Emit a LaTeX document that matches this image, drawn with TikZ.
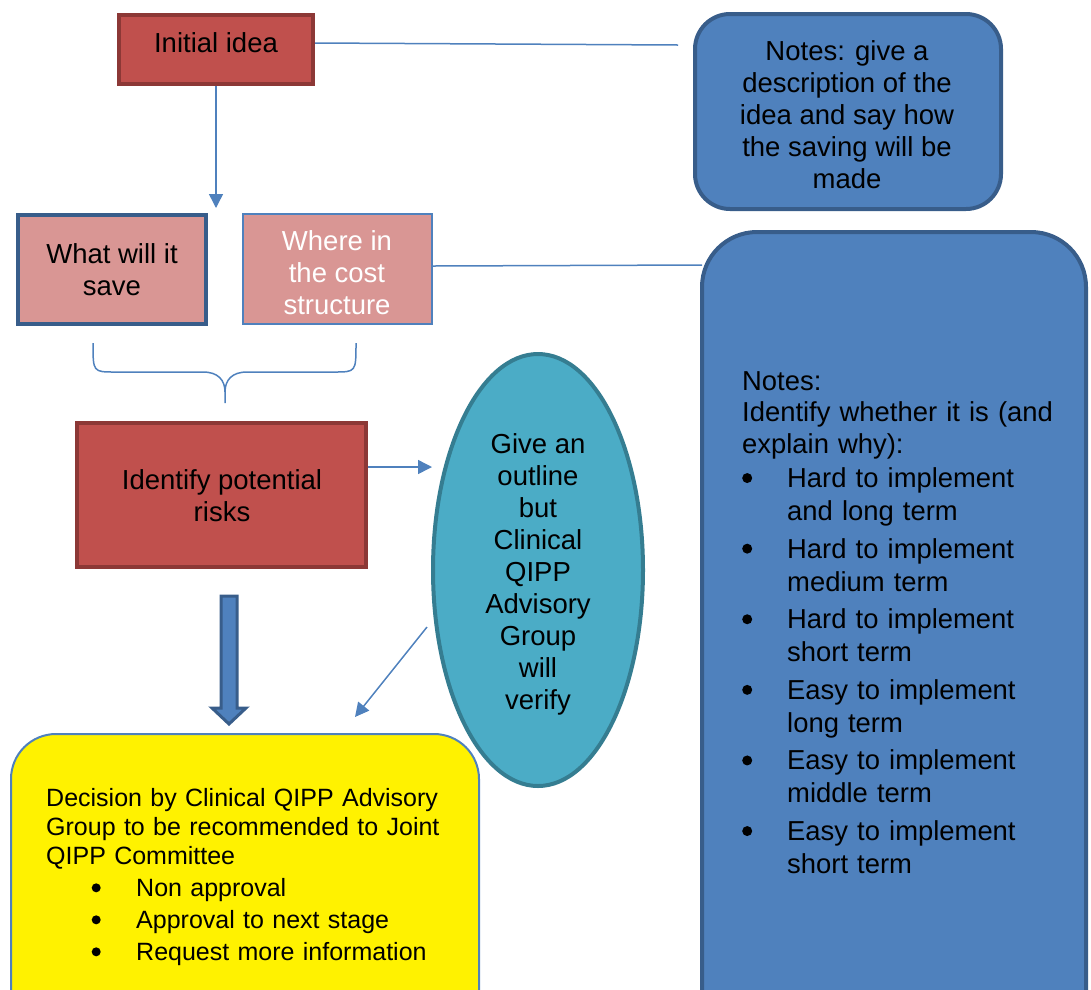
\documentclass[tikz,border=0pt]{standalone}
\usepackage{fontspec}
\setmainfont{Liberation Sans}
\usetikzlibrary{arrows.meta,shapes.geometric,calc}
\setlength{\parindent}{0pt}
\definecolor{ideared}{HTML}{C0504D}
\definecolor{idearedline}{HTML}{8C3836}
\definecolor{pinkfill}{HTML}{D99694}
\definecolor{accblue}{HTML}{4F81BD}
\definecolor{darkblue}{HTML}{385D8A}
\definecolor{tealfill}{HTML}{4BACC6}
\definecolor{tealline}{HTML}{357D91}
% round bullet dot: #1 radius, #2 height of its centre above the baseline
\newcommand{\dotmark}[2]{\tikz[baseline=0pt]\fill[black] (0pt,#2) circle[radius=#1];}
% bullet paragraph: #1 space above, #2 gap between bullet and text, #3 radius, #4 raise
\newcommand{\bulitem}[4]{\par\vspace{#1}\leavevmode\llap{\dotmark{#3}{#4}\hspace{#2}}}
\begin{document}
\begin{tikzpicture}[x=1pt,y=-1pt,
  redbox/.style={rectangle,draw=idearedline,line width=4pt,fill=ideared,inner sep=0},
  pinkbox/.style={rectangle,fill=pinkfill,inner sep=0},
  notebox/.style={rectangle,draw=darkblue,line width=4pt,fill=accblue,inner sep=0},
  link/.style={draw=accblue,line width=1.5pt},
  arrowlink/.style={link,-{Triangle[length=14pt,width=14pt]}},
  txt/.style={font=\fontsize{27.5}{32}\selectfont,inner sep=0,align=center},
  listtxt/.style={inner sep=0,anchor=north west,align=left}]
\useasboundingbox (0,0) rectangle (1091,989);
\clip (0,0) rectangle (1091,989);

% boxes
\node[redbox,minimum width=194,minimum height=69] (idea) at (216,49.5) {};
\node[pinkbox,draw=darkblue,line width=4pt,minimum width=188,minimum height=109] (save) at (112,269.5) {};
\node[pinkbox,draw=accblue,line width=2pt,minimum width=189,minimum height=110] (where) at (337.5,269) {};
\node[redbox,minimum width=289,minimum height=144] (risk) at (221.5,495) {};
\node[ellipse,draw=tealline,line width=4pt,fill=tealfill,inner sep=0,minimum width=210,minimum height=432] (verify) at (538,570) {};
\node[notebox,rounded corners=35pt,minimum width=306,minimum height=195] (notesA) at (848,111.5) {};
\node[notebox,rounded corners=55pt,minimum width=384,minimum height=868] (notesB) at (894,666) {};
\node[rectangle,draw=accblue,line width=2pt,fill=yellow,rounded corners=45pt,inner sep=0,minimum width=468,minimum height=366] (decision) at (245,917) {};

% texts
\node[txt,anchor=base] (ideaT) at (216,52) {Initial idea};
\node[txt] (saveT) at (112,270) {What will it\\save};
\node[txt,text=white] (whereT) at (337,273) {Where in\\the cost\\structure};
\node[txt] (riskT) at (222,496) {Identify potential\\risks};
\node[txt] (verifyT) at (538,574.5) {Give an\\outline\\but\\Clinical\\QIPP\\Advisory\\Group\\will\\verify};
\node[txt] (notesAT) at (847,114.5) {Notes: give a\\description of the\\idea and say how\\the saving will be\\made};
\node[listtxt,text width=340pt,font=\fontsize{27.4}{31.6}\selectfont] (notesBT) at (742,371.3) {%
  Notes:\\Identify whether it is (and\\explain why):\par
  {\leftskip=45pt \baselineskip=33pt
  \bulitem{1pt}{35pt}{5pt}{9.5pt}Hard to implement\\and long term
  \bulitem{4.6pt}{35pt}{5pt}{9.5pt}Hard to implement\\medium term
  \bulitem{4.6pt}{35pt}{5pt}{9.5pt}Hard to implement\\short term
  \bulitem{4.6pt}{35pt}{5pt}{9.5pt}Easy to implement\\long term
  \bulitem{4.6pt}{35pt}{5pt}{9.5pt}Easy to implement\\middle term
  \bulitem{4.6pt}{35pt}{5pt}{9.5pt}Easy to implement\\short term\par}};
\node[listtxt,text width=420pt,font=\fontsize{25}{29}\selectfont] (decisionT) at (46,788) {%
  Decision by Clinical QIPP Advisory\\Group to be recommended to Joint\\QIPP Committee\par
  {\leftskip=90pt
  \bulitem{3pt}{35.5pt}{4.5pt}{8.5pt}Non approval
  \bulitem{3pt}{35.5pt}{4.5pt}{8.5pt}Approval to next stage
  \bulitem{3pt}{35.5pt}{4.5pt}{8.5pt}Request more information\par}};

% connectors
\coordinate (notesAend) at (678,45);
\coordinate (downtip) at (216,208);
\coordinate (notesBend) at (702,265);
\coordinate (verifytip) at (432,467);
\coordinate (verifyout) at (427,627);
\coordinate (decisiontip) at (355,717);
\draw[link] ([yshift=6.5pt]idea.east) -- (notesAend);
\draw[arrowlink] (idea.south) -- (downtip);
\draw[link] ([yshift=3pt]where.east) -- (notesBend);
\draw[arrowlink] ([yshift=28pt]risk.east) -- (verifytip);
\draw[arrowlink] (verifyout) -- (decisiontip);

% brace gathering the two boxes above
\draw[link] (93,343) .. controls (93,372) .. (115,372) -- (203,372)
  .. controls (218,372) and (225,380) .. (225,392) -- (225,403);
\draw[link] (225,392) .. controls (225,380) and (232,372) .. (247,372) -- (334,372)
  .. controls (356,372) .. (356,343);

% block arrow down to the decision
\draw[draw=darkblue,line width=3pt,fill=accblue,line join=miter]
  (221,596) -- (237,596) -- (237,708) -- (246,708) -- (229,724) -- (212,708) -- (221,708) -- cycle;
\end{tikzpicture}
\end{document}
